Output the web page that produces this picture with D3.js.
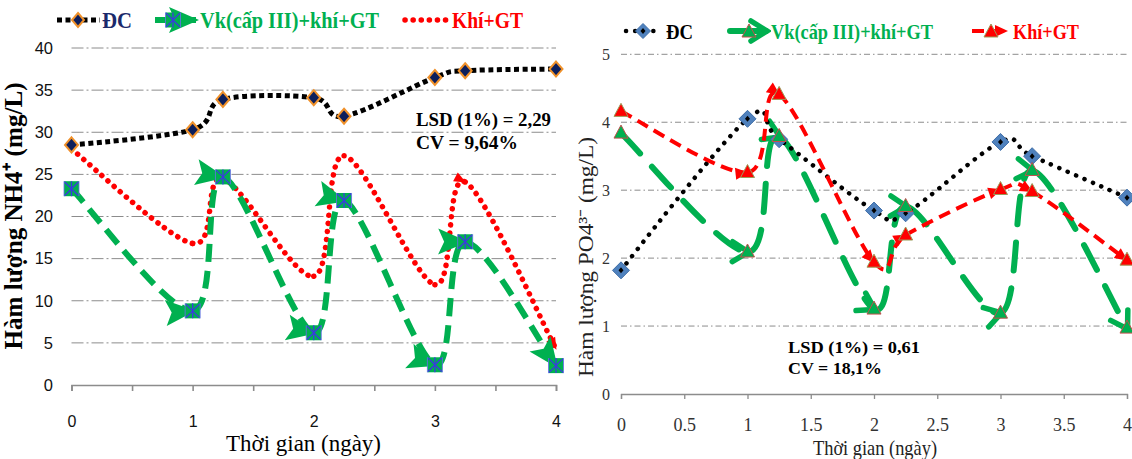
<!DOCTYPE html>
<html><head><meta charset="utf-8">
<script src="https://cdn.jsdelivr.net/npm/d3@7"></script>
<style>body{margin:0;background:#fff}svg{display:block}</style>
</head><body><svg id="c" width="1132" height="459"></svg>
<script>
// ---------- data ----------
const days = [0, 1, 1.25, 2, 2.25, 3, 3.25, 4];
const seriesNames = ["ĐC", "Vk(cấp III)+khí+GT", "Khí+GT"];
// NH4+ (left)
const nh4DC  = [28.5, 30.3, 33.9, 34.1, 31.9, 36.5, 37.3, 37.5];
const nh4Vk  = [23.3, 8.8, 24.7, 6.2, 21.9, 2.4, 17.0, 2.3];
const nh4Khi = [28.0, 16.8, 24.5, 12.9, 27.2, 11.9, 24.1, 4.3];
const nh4YTicks = [0, 5, 10, 15, 20, 25, 30, 35, 40];
const nh4XTicks = [0, 0.5, 1, 1.5, 2, 2.5, 3, 3.5, 4];
const nh4XLabels = ["0", "", "1", "", "2", "", "3", "", "4"];
// PO4 3- (right)
const po4DC  = [1.82, 4.05, 3.75, 2.70, 2.66, 3.71, 3.50, 2.89];
const po4Vk  = [3.84, 2.09, 3.79, 1.25, 2.76, 1.19, 3.29, 0.97];
const po4Khi = [4.16, 3.26, 4.41, 1.94, 2.34, 3.01, 2.98, 1.97];
const po4YTicks = [0, 1, 2, 3, 4, 5];
const po4YLabels = ["0", "1", "2", "3", "4", "5"];
const po4XTicks = [0, 0.5, 1, 1.5, 2, 2.5, 3, 3.5, 4];
const po4XLabels = ["0", "0.5", "1", "1.5", "2", "2.5", "3", "3.5", "4"];
const nh4Stats = ["LSD (1%) = 2,29", "CV = 9,64%"];
const po4Stats = ["LSD (1%) = 0,61", "CV = 18,1%"];

// ---------- setup ----------
const GREEN = "#00B050", RED = "#FF0000", GRID = "#8c8c8c";
const svg = d3.select("#c");
const defs = svg.append("defs");
function marker(id, d, w, h, refX, refY, fill, stroke, sw) {
  defs.append("marker").attr("id", id).attr("markerUnits", "userSpaceOnUse")
    .attr("markerWidth", w + 8).attr("markerHeight", h + 8)
    .attr("viewBox", `-4 -4 ${w + 8} ${h + 8}`)
    .attr("refX", refX).attr("refY", refY).attr("orient", "auto")
    .append("path").attr("d", d).attr("fill", fill).attr("stroke", stroke || "none")
    .attr("stroke-width", sw || 0).attr("stroke-linejoin", "miter").attr("stroke-linecap", "round");
}
marker("aGreenL", "M0,0 L30,13 L0,26 L6,13 Z", 30, 26, 27, 13, GREEN);
marker("aRedL", "M0,0 L12,5 L0,10 Z", 12, 10, 11, 5, RED);
marker("aGreenR", "M0,0 L16,10 L0,20", 16, 20, 15, 10, "none", GREEN, 5.5);
marker("aRedR", "M0,0 L13,6 L0,12 Z", 13, 12, 12, 6, RED);

function segments(xs, ys, xS, yS) {
  const pts = xs.map((d, i) => [xS(d), yS(ys[i])]);
  const out = [];
  for (let i = 0; i < pts.length - 1; i++) {
    const p0 = pts[i - 1] || pts[i], p1 = pts[i], p2 = pts[i + 1], p3 = pts[i + 2] || pts[i + 1];
    const p = d3.path();
    p.moveTo(p1[0], p1[1]);
    p.bezierCurveTo(p1[0] + (p2[0] - p0[0]) / 6, p1[1] + (p2[1] - p0[1]) / 6,
      p2[0] - (p3[0] - p1[0]) / 6, p2[1] - (p3[1] - p1[1]) / 6, p2[0], p2[1]);
    out.push(p.toString());
  }
  return out;
}
function drawSeries(g, xs, ys, xS, yS, style, arrowAt) {
  const segs = segments(xs, ys, xS, yS);
  g.append("g").selectAll("path").data(segs).join("path")
    .attr("d", d => d).attr("fill", "none")
    .attr("stroke", style.stroke).attr("stroke-width", style.width)
    .attr("stroke-dasharray", style.dash).attr("stroke-linecap", style.cap || "butt")
    .attr("marker-end", (d, i) => (style.arrow && (!arrowAt || arrowAt.includes(i + 1))) ? `url(#${style.arrow})` : null);
}
function diamond(g, cx, cy, w, h, fill, stroke, sw) {
  return g.append("path").attr("d", `M${cx},${cy - h / 2}L${cx + w / 2},${cy}L${cx},${cy + h / 2}L${cx - w / 2},${cy}Z`)
    .attr("fill", fill).attr("stroke", stroke || "none").attr("stroke-width", sw || 0);
}
function starSquare(g, cx, cy) {
  g.append("rect").attr("x", cx - 7.5).attr("y", cy - 7.5).attr("width", 15).attr("height", 15).attr("fill", GREEN);
  g.append("path").attr("d", `M${cx - 7},${cy - 7}L${cx + 7},${cy + 7}M${cx + 7},${cy - 7}L${cx - 7},${cy + 7}M${cx},${cy - 7.5}L${cx},${cy + 7.5}`)
    .attr("stroke", "#3a3adf").attr("stroke-width", 1.3).attr("fill", "none");
  g.append("path").attr("d", `M${cx - 7.5},${cy - 7.5}V${cy + 7.5}M${cx + 7.5},${cy - 7.5}V${cy + 7.5}`)
    .attr("stroke", "#6a6af0").attr("stroke-width", 0.8);
}
function triangle(g, cx, cy, fill, stroke) {
  g.append("path").attr("d", `M${cx},${cy - 8}L${cx + 7},${cy + 5}L${cx - 7},${cy + 5}Z`)
    .attr("fill", fill).attr("stroke", stroke).attr("stroke-width", 1);
}
function label(g, x, y, txt, size, weight, fill, len, anchor, family) {
  return g.append("text").attr("x", x).attr("y", y).attr("dominant-baseline", "central")
    .attr("text-anchor", anchor || "start")
    .attr("font-family", family || "'Liberation Serif', 'Times New Roman', serif")
    .attr("font-size", size).attr("font-weight", weight).attr("fill", fill)
    .attr("textLength", len || null).attr("lengthAdjust", len ? "spacingAndGlyphs" : null).text(txt);
}

// ================= LEFT CHART (NH4+) =================
const L = svg.append("g");
const xL = d3.scaleLinear().domain([0, 4]).range([71.5, 556]);
const yL = d3.scaleLinear().domain([0, 40]).range([385, 48]);
L.append("g").selectAll("line").data(nh4YTicks.slice(1)).join("line")
  .attr("x1", xL(0)).attr("x2", xL(4)).attr("y1", d => yL(d)).attr("y2", d => yL(d))
  .attr("stroke", GRID).attr("stroke-width", 1).attr("stroke-dasharray", "12,3,2,3");
const lyAx = L.append("g").attr("transform", `translate(${xL(0)},0)`)
  .call(d3.axisLeft(yL).tickValues(nh4YTicks).tickSize(0).tickPadding(18.5));
lyAx.select(".domain").remove();
lyAx.selectAll("text").attr("font-family", "'Liberation Sans', Arial, sans-serif").attr("font-size", 16.5).attr("fill", "#111");
const lxAx = L.append("g").attr("transform", `translate(0,${yL(0)})`)
  .call(d3.axisBottom(xL).tickValues(nh4XTicks).tickSize(6).tickFormat((d, i) => nh4XLabels[i]));
lxAx.selectAll("line, path").attr("stroke", GRID).attr("stroke-width", 1.6);
lxAx.selectAll("text").attr("y", 36).attr("dy", "0.35em")
  .attr("font-family", "'Liberation Sans', Arial, sans-serif").attr("font-size", 16).attr("fill", "#111");

drawSeries(L, days, nh4Khi, xL, yL, { stroke: RED, width: 5.5, dash: "0.1,8", cap: "round", arrow: "aRedL" }, [6, 7]);
drawSeries(L, days, nh4Vk, xL, yL, { stroke: GREEN, width: 6, dash: "18,9", arrow: "aGreenL" });
L.append("path").datum(days.map((d, i) => [xL(d), yL(nh4DC[i])]))
  .attr("d", d3.line().curve(d3.curveCardinal.tension(0))).attr("fill", "none")
  .attr("stroke", "#000").attr("stroke-width", 5).attr("stroke-dasharray", "5,3.5");
days.forEach((d, i) => diamond(L, xL(d), yL(nh4DC[i]), 13, 15, "#0d1f5c", "#f0912a", 2));
days.forEach((d, i) => starSquare(L, xL(d), yL(nh4Vk[i])));

// legend left
L.append("line").attr("x1", 57).attr("x2", 100).attr("y1", 20).attr("y2", 20)
  .attr("stroke", "#000").attr("stroke-width", 5).attr("stroke-dasharray", "5,3.5");
diamond(L, 78, 20, 12, 14, "#0d1f5c", "#f0912a", 2);
label(L, 102, 20, seriesNames[0], 23, "bold", "#1b2a6b", 30);
L.append("line").attr("x1", 155).attr("x2", 196).attr("y1", 20).attr("y2", 20)
  .attr("stroke", GREEN).attr("stroke-width", 6).attr("marker-end", "url(#aGreenL)");
starSquare(L, 173, 20);
label(L, 200, 20, seriesNames[1], 23, "bold", GREEN, 179);
L.append("line").attr("x1", 405).attr("x2", 449).attr("y1", 20).attr("y2", 20)
  .attr("stroke", RED).attr("stroke-width", 5.5).attr("stroke-dasharray", "0.1,8").attr("stroke-linecap", "round");
label(L, 452, 20, seriesNames[2], 23, "bold", RED, 71);

// stats left
label(L, 416, 120, nh4Stats[0], 18, "bold", "#000", 135);
label(L, 416, 143, nh4Stats[1], 18, "bold", "#000", 102);

// titles left
label(L, 303.5, 443, "Thời gian (ngày)", 24, "normal", "#000", 155, "middle");
label(L, 0, 0, "Hàm lượng NH4⁺ (mg/L)", 26, "bold", "#000", 267, "middle")
  .attr("transform", "translate(13,216) rotate(-90)");

// ================= RIGHT CHART (PO4 3-) =================
const R = svg.append("g");
const xR = d3.scaleLinear().domain([0, 4]).range([621, 1127]);
const yR = d3.scaleLinear().domain([0, 5]).range([394, 54.3]);
R.append("g").selectAll("line").data(po4YTicks.slice(1)).join("line")
  .attr("x1", xR(0)).attr("x2", xR(4)).attr("y1", d => yR(d)).attr("y2", d => yR(d))
  .attr("stroke", GRID).attr("stroke-width", 1).attr("stroke-dasharray", "6,3,1.5,3");
const ryAx = R.append("g").attr("transform", `translate(${xR(0)},0)`)
  .call(d3.axisLeft(yR).tickValues(po4YTicks).tickSize(0).tickPadding(11).tickFormat((d, i) => po4YLabels[i]));
ryAx.select(".domain").remove();
ryAx.selectAll("text").attr("font-family", "'Liberation Serif', serif").attr("font-size", 16).attr("fill", "#333");
const rxAx = R.append("g").attr("transform", `translate(0,${yR(0)})`)
  .call(d3.axisBottom(xR).tickValues(po4XTicks).tickSize(5).tickFormat((d, i) => po4XLabels[i]));
rxAx.selectAll("line, path").attr("stroke", GRID).attr("stroke-width", 1.3);
rxAx.selectAll("text").attr("y", 31).attr("dy", "0.35em")
  .attr("font-family", "'Liberation Serif', serif").attr("font-size", 18).attr("fill", "#333");

drawSeries(R, days, po4Vk, xR, yR, { stroke: GREEN, width: 6, dash: "28,18", cap: "round", arrow: "aGreenR" });
R.append("path").datum(days.map((d, i) => [xR(d), yR(po4DC[i])]))
  .attr("d", d3.line().curve(d3.curveCardinal.tension(0))).attr("fill", "none")
  .attr("stroke", "#000").attr("stroke-width", 4.5).attr("stroke-dasharray", "0.1,9").attr("stroke-linecap", "round");
drawSeries(R, days, po4Khi, xR, yR, { stroke: RED, width: 4, dash: "12,7", arrow: "aRedR" });
days.forEach((d, i) => {
  diamond(R, xR(d), yR(po4DC[i]), 17, 17, "#4f81bd", "#3f6ea8", 1);
  diamond(R, xR(d), yR(po4DC[i]), 5, 6, "#000");
});
days.forEach((d, i) => triangle(R, xR(d), yR(po4Vk[i]), GREEN, "#c0504d"));
days.forEach((d, i) => triangle(R, xR(d), yR(po4Khi[i]), RED, "#9b9b5a"));

// legend right
R.append("line").attr("x1", 626).attr("x2", 662).attr("y1", 31).attr("y2", 31)
  .attr("stroke", "#000").attr("stroke-width", 4.5).attr("stroke-dasharray", "0.1,9").attr("stroke-linecap", "round");
diamond(R, 643, 31, 15, 15, "#4f81bd", "#3f6ea8", 1);
diamond(R, 643, 31, 5, 6, "#000");
label(R, 666, 31, seriesNames[0], 22, "bold", "#000", 27);
R.append("line").attr("x1", 730).attr("x2", 766).attr("y1", 31).attr("y2", 31)
  .attr("stroke", GREEN).attr("stroke-width", 6).attr("stroke-linecap", "round").attr("marker-end", "url(#aGreenR)");
triangle(R, 749, 32, GREEN, "#c0504d");
label(R, 771, 31, seriesNames[1], 22, "bold", GREEN, 162);
R.append("line").attr("x1", 972).attr("x2", 1007).attr("y1", 31).attr("y2", 31)
  .attr("stroke", RED).attr("stroke-width", 4).attr("stroke-dasharray", "12,7").attr("marker-end", "url(#aRedR)");
triangle(R, 991, 32, RED, "#9b9b5a");
label(R, 1013, 31, seriesNames[2], 22, "bold", RED, 66);

// stats right
label(R, 788, 347, po4Stats[0], 17.5, "bold", "#000", 132);
label(R, 788, 368, po4Stats[1], 17.5, "bold", "#000", 94);

// titles right
label(R, 875, 448, "Thời gian (ngày)", 21, "normal", "#222", 124, "middle");
label(R, 0, 0, "Hàm lượng PO4³⁻ (mg/L)", 21, "normal", "#222", 240, "middle")
  .attr("transform", "translate(586,257) rotate(-90)");
</script></body></html>
